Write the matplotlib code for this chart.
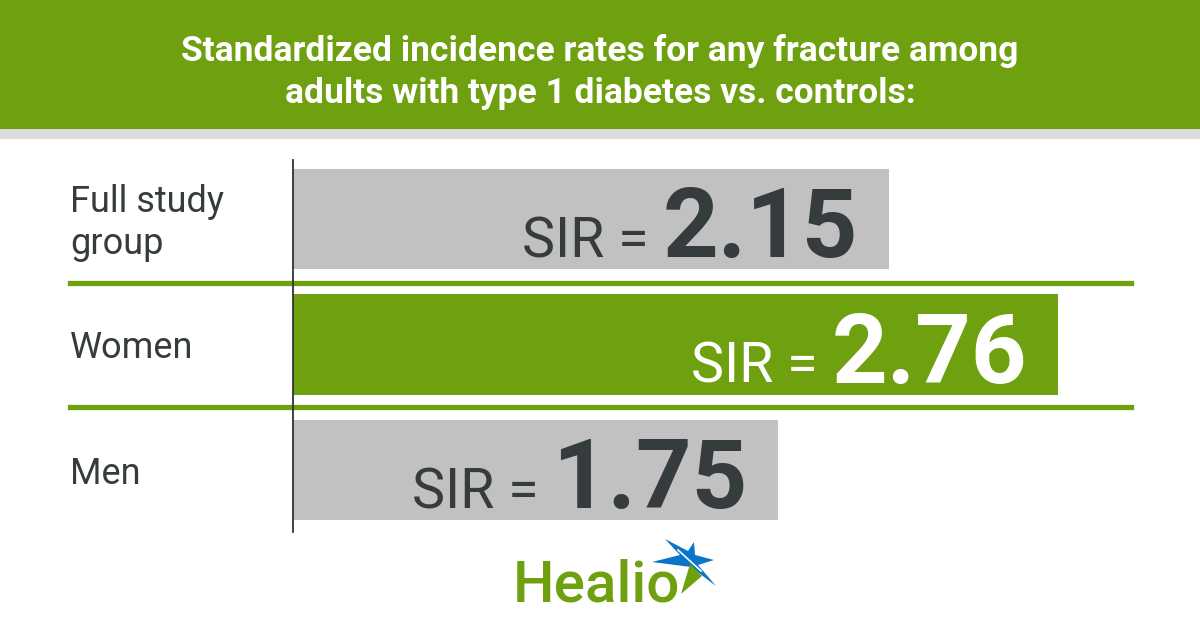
import matplotlib
matplotlib.use("Agg")
import matplotlib.pyplot as plt
from matplotlib.patches import Rectangle, Polygon

# data
categories = ["Full study\ngroup", "Women", "Men"]
sir_values = [2.15, 2.76, 1.75]
highlight = [False, True, False]

title = "Standardized incidence rates for any fracture among\nadults with type 1 diabetes vs. controls:"

GREEN = "#6ea00f"
GRAY_BAR = "#c1c1c1"
STRIP = "#dcdcdc"
DARK = "#363b3e"
BLUE = "#0a74c9"

plt.rcParams["font.family"] = ["Roboto", "DejaVu Sans"]

fig = plt.figure(figsize=(12, 6.3), dpi=100)

# background / decoration axes in pixel coordinates
bg = fig.add_axes([0, 0, 1, 1])
bg.set_xlim(0, 1200)
bg.set_ylim(630, 0)
bg.axis("off")
bg.add_patch(Rectangle((0, 0), 1200, 129, color=GREEN, lw=0))
bg.add_patch(Rectangle((0, 129), 1200, 10, color=STRIP, lw=0))
bg.text(600, 103, title, ha="center", va="baseline", color="white",
        fontsize=25.5, fontweight="bold", linespacing=1.36)

# Healio logo
bg.text(513, 601, "Healio", ha="left", va="baseline", color=GREEN,
        fontsize=42, fontweight="medium")
star = [(652, 562), (680, 555), (665, 539), (688, 551), (694, 542),
        (695, 555), (714, 560), (698, 565), (716, 586), (691, 567)]
bg.add_patch(Polygon(star, closed=True, color=BLUE, lw=0))
bg.add_patch(Polygon([(690, 564), (681, 594), (702, 576)], closed=True,
                     color=GREEN, lw=0))
bg.plot([678, 701], [550, 571], color="white", lw=1.2)

# bar axes
px_per_unit = 277
x0_px, top_px, bot_px = 293, 160, 532
xmax = 3.0
ax = fig.add_axes([x0_px / 1200, (630 - bot_px) / 630,
                   xmax * px_per_unit / 1200, (bot_px - top_px) / 630])
ax.patch.set_alpha(0)
ypos = list(range(len(categories)))
ax.set_xlim(0, xmax)
ax.set_ylim(2.494, -0.47)
colors = [GREEN if h else GRAY_BAR for h in highlight]
ax.barh(ypos, sir_values, height=0.8, color=colors, lw=0)

for s in ["top", "right", "bottom"]:
    ax.spines[s].set_visible(False)
ax.spines["left"].set_color("#333333")
ax.spines["left"].set_linewidth(1.3)
ax.set_xticks([])
ax.set_yticks([])

# separators between rows
xmin_frac = (70 - x0_px) / (xmax * px_per_unit)
xmax_frac = (1131 - x0_px) / (xmax * px_per_unit)
for yy in [0.51, 1.5]:
    ax.axhline(yy, xmin=xmin_frac, xmax=xmax_frac, color=GREEN, lw=3.8,
               clip_on=False, zorder=0)

# category labels
for y, lab in zip(ypos, categories):
    ax.text(xmin_frac, y + 0.03, lab, transform=ax.get_yaxis_transform(),
            ha="left", va="center", fontsize=26, color=DARK,
            linespacing=1.2)

# values
renderer = fig.canvas.get_renderer()
for y, v, h in zip(ypos, sir_values, highlight):
    c = "white" if h else DARK
    num = ax.annotate(f"{v:.2f}", xy=(v, y + 0.4), xytext=(-30, 12),
                      textcoords="offset pixels", ha="right", va="baseline",
                      fontsize=70, fontweight="bold", color=c)
    bb = num.get_window_extent(renderer)
    ax.annotate("SIR =", xy=(v, y + 0.4),
                xytext=(bb.x0 - ax.transData.transform((v, 0))[0] - 14, 12),
                textcoords="offset pixels", ha="right", va="baseline",
                fontsize=40, color=c)

fig.savefig("out.png", dpi=100)
